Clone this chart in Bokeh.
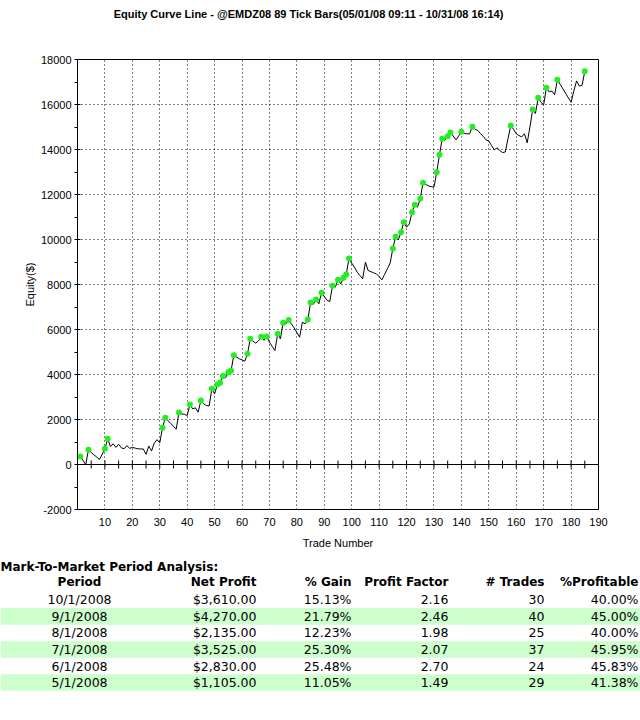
import math
from bokeh.plotting import figure
from bokeh.models import Range1d, FixedTicker, NumeralTickFormatter, Span
from bokeh.embed import file_html
from bokeh.resources import INLINE
from bokeh.core.properties import value

# ---------------- data ----------------
chart_title = "Equity Curve Line - @EMDZ08 89 Tick Bars(05/01/08 09:11 - 10/31/08 16:14)"
trade_no = list(range(1, 186))
equity = [
    355, 190, -10, 652, 540, 430, 330, 222, 460, 696,
    1141, 800, 920, 760, 900, 740, 700, 840, 720, 760,
    730, 700, 690, 690, 450, 820, 600, 950, 1105, 960,
    1630, 2074, 1950, 1820, 1700, 1570, 2311, 2250, 2230, 2178,
    2666, 2474, 2518, 2326, 2844, 2700, 2622, 2600, 3363, 3140,
    3555, 3630, 3935, 3850, 4103, 4163, 4860, 4780, 4700, 4650,
    4592, 4920, 5585, 5480, 5393, 5500, 5674, 5520, 5689, 5437,
    5250, 5066, 5807, 5585, 6296, 6250, 6420, 6250, 6074, 5870,
    5659, 6326, 6252, 6440, 7200, 7120, 7333, 7140, 7629, 7460,
    7300, 7244, 7940, 7880, 8207, 8029, 8296, 8444, 9155, 8950,
    8770, 8548, 8400, 8251, 8992, 8622, 8570, 8518, 8473, 8350,
    8207, 8450, 8700, 8948, 9595, 10118, 9980, 10325, 10770, 10550,
    10690, 11214, 11540, 11440, 11821, 12517, 12450, 12380, 12350, 12325,
    12992, 13762, 14474, 14420, 14592, 14755, 14600, 14429, 14600, 14785,
    14720, 14696, 14700, 15007, 14900, 14844, 14700, 14577, 14429, 14370,
    14177, 13985, 14073, 13955, 13865, 13890, 14480, 15066, 14900, 14700,
    14620, 14560, 14700, 14300, 15000, 15778, 15600, 16296, 16100, 15990,
    16741, 16560, 16600, 16430, 17100, 16900, 16700, 16500, 16300, 16100,
    16600, 17050, 16820, 16850, 17475,
]

x_ticks = list(range(10, 200, 10))
y_ticks = list(range(-2000, 20000, 2000))
y_minor = list(range(-1000, 18000, 2000))
zero_line_ticks = list(range(5, 190, 5))

table_title = "Mark-To-Market Period Analysis:"
periods = ["10/1/2008", "9/1/2008", "8/1/2008", "7/1/2008", "6/1/2008", "5/1/2008"]
net_profit = [3610.00, 4270.00, 2135.00, 3525.00, 2830.00, 1105.00]
pct_gain = [15.13, 21.79, 12.23, 25.30, 25.48, 11.05]
profit_factor = [2.16, 2.46, 1.98, 2.07, 2.70, 1.49]
num_trades = [30, 40, 25, 37, 24, 29]
pct_profitable = [40.00, 45.00, 40.00, 45.95, 45.83, 41.38]
headers = ["Period", "Net Profit", "% Gain", "Profit Factor", "# Trades", "%Profitable"]

# new equity highs
high_x, high_y = [], []
peak = 0
for t, e in zip(trade_no, equity):
    if e > peak:
        high_x.append(t)
        high_y.append(e)
        peak = e

FONT = "Liberation Sans"
TF = "DejaVu Sans"

# ---------------- title strip ----------------
h = figure(width=640, height=26, x_range=Range1d(0, 640), y_range=Range1d(26, 0),
           output_backend="svg", toolbar_location=None, min_border=0,
           x_axis_type=None, y_axis_type=None,
           background_fill_color="white", border_fill_color="white")
h.outline_line_color = None
h.grid.visible = False
h.text(x=[308], y=[13], text=[chart_title], text_align="center", text_baseline="middle",
       text_font=value(FONT), text_font_size="11px", text_font_style="bold",
       text_color="black")

# ---------------- chart ----------------
p = figure(width=640, height=534,
           x_range=Range1d(0, 190), y_range=Range1d(-2000, 18000),
           output_backend="svg", toolbar_location=None,
           min_border_left=77, min_border_right=42,
           min_border_top=33, min_border_bottom=51,
           background_fill_color="white", border_fill_color="white")

p.outline_line_color = "black"
p.outline_line_alpha = 1.0
p.outline_line_width = 1

xa = p.xaxis[0]
xa.ticker = FixedTicker(ticks=x_ticks, minor_ticks=[])
xa.major_tick_in = 0
xa.major_tick_out = 0
xa.minor_tick_in = 0
xa.minor_tick_out = 0
xa.axis_line_color = "black"
xa.major_label_standoff = 8
xa.major_label_text_font = FONT
xa.major_label_text_font_size = "11px"
xa.major_label_text_color = "black"
xa.axis_label = "Trade Number"
xa.axis_label_text_font = FONT
xa.axis_label_text_font_size = "11px"
xa.axis_label_text_font_style = "normal"
xa.axis_label_text_color = "black"
xa.axis_label_standoff = 8

ya = p.yaxis[0]
ya.ticker = FixedTicker(ticks=y_ticks, minor_ticks=y_minor)
ya.formatter = NumeralTickFormatter(format="0")
ya.major_tick_in = 3
ya.major_tick_out = 3
ya.minor_tick_in = 0
ya.minor_tick_out = 3
ya.major_tick_line_color = "black"
ya.minor_tick_line_color = "black"
ya.axis_line_color = "black"
ya.major_label_standoff = 3
ya.major_label_text_font = FONT
ya.major_label_text_font_size = "11px"
ya.major_label_text_color = "black"
ya.axis_label = "Equity($)"
ya.axis_label_text_font = FONT
ya.axis_label_text_font_size = "11px"
ya.axis_label_text_font_style = "normal"
ya.axis_label_text_color = "black"
ya.axis_label_standoff = 2

p.xgrid.ticker = FixedTicker(ticks=[t for t in x_ticks if t < 190])
p.ygrid.ticker = FixedTicker(ticks=[v for v in y_ticks if -2000 < v < 18000 and v != 0])
for g in (p.xgrid[0], p.ygrid[0]):
    g.grid_line_color = "black"
    g.grid_line_alpha = 1.0
    g.grid_line_dash = "1 3"
    g.grid_line_width = 1

zero = Span(location=0, dimension="width", line_color="black", line_width=1, level="underlay")
p.add_layout(zero)
p.scatter(zero_line_ticks, [0] * len(zero_line_ticks), marker="dash", angle=math.pi / 2,
          size=8, line_color="black", line_width=1)

p.line(trade_no, equity, line_color="black", line_width=1)
p.scatter(high_x, high_y, marker="circle", size=6, fill_color="#22EE22", line_color=None)

# ---------------- table ----------------
t = figure(width=640, height=160, x_range=Range1d(0, 640), y_range=Range1d(160, 0),
           output_backend="svg", toolbar_location=None, min_border=0,
           x_axis_type=None, y_axis_type=None,
           background_fill_color="white", border_fill_color="white")
t.outline_line_color = None
t.grid.visible = False

n = len(periods)
row0, pitch = 39.3, 16.55
row_y = [row0 + i * pitch for i in range(n)]
band_rows = [i for i in range(n) if i % 2 == 1]
t.quad(left=0, right=640,
       top=[row_y[i] - pitch / 2 for i in band_rows],
       bottom=[row_y[i] + pitch / 2 for i in band_rows],
       fill_color="#CCFFCC", line_color=None)

t.text(x=[0], y=[6.7], text=[table_title], text_align="left",
       text_baseline="middle", text_font=value(TF), text_font_size="12px",
       text_font_style="bold", text_color="black")

col_x = [79, 256, 351, 448, 544, 638]
col_align = ["center", "right", "right", "right", "right", "right"]
for hd, cx, al in zip(headers, col_x, col_align):
    t.text(x=[cx], y=[21.7], text=[hd], text_align=al, text_baseline="middle",
           text_font=value(TF), text_font_size="12px", text_font_style="bold",
           text_color="black")

columns = [
    periods,
    [f"${v:,.2f}" for v in net_profit],
    [f"{v:.2f}%" for v in pct_gain],
    [f"{v:.2f}" for v in profit_factor],
    [str(v) for v in num_trades],
    [f"{v:.2f}%" for v in pct_profitable],
]
for vals, cx, al in zip(columns, col_x, col_align):
    t.text(x=[cx] * n, y=row_y, text=vals, text_align=al, text_baseline="middle",
           text_font=value(TF), text_font_size="12.5px", text_color="black")

open("out.html", "w").write(file_html([h, p, t], INLINE))
